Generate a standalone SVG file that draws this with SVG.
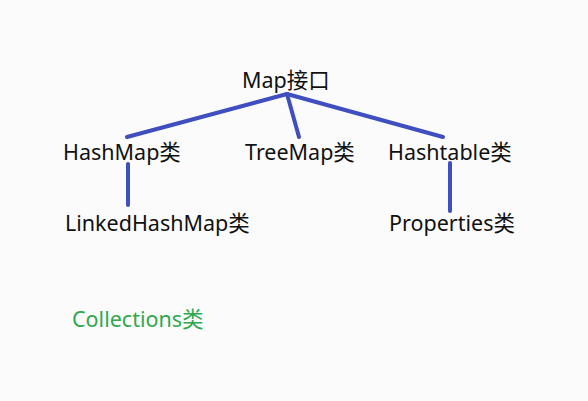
<svg xmlns="http://www.w3.org/2000/svg" width="588" height="401" viewBox="0 0 588 401">
<style>
text{font-family:"Noto Sans","Noto Sans CJK SC",sans-serif;font-size:21.5px;fill:#111}
.g{fill:#2fa84f}
.c line{stroke:#3f4fbf;stroke-width:4;stroke-linecap:round}
</style>
<rect width="588" height="401" fill="#fbfbfb"/>
<g id="connectors" class="c">
<line x1="287" y1="94" x2="127" y2="137"/>
<line x1="287" y1="94" x2="299" y2="137"/>
<line x1="287" y1="94" x2="443" y2="137"/>
<line x1="128" y1="164" x2="128" y2="205"/>
<line x1="450" y1="163" x2="450" y2="211"/>
</g>
<g id="map"><text x="242" y="88">Map接口</text></g>
<g id="hashmap"><text x="63" y="160">HashMap类</text></g>
<g id="treemap"><text x="245" y="160">TreeMap类</text></g>
<g id="hashtable"><text x="388" y="160">Hashtable类</text></g>
<g id="linkedhashmap"><text x="65" y="231">LinkedHashMap类</text></g>
<g id="properties"><text x="389" y="231">Properties类</text></g>
<g id="collections"><text class="g" x="72" y="327">Collections类</text></g>
</svg>
